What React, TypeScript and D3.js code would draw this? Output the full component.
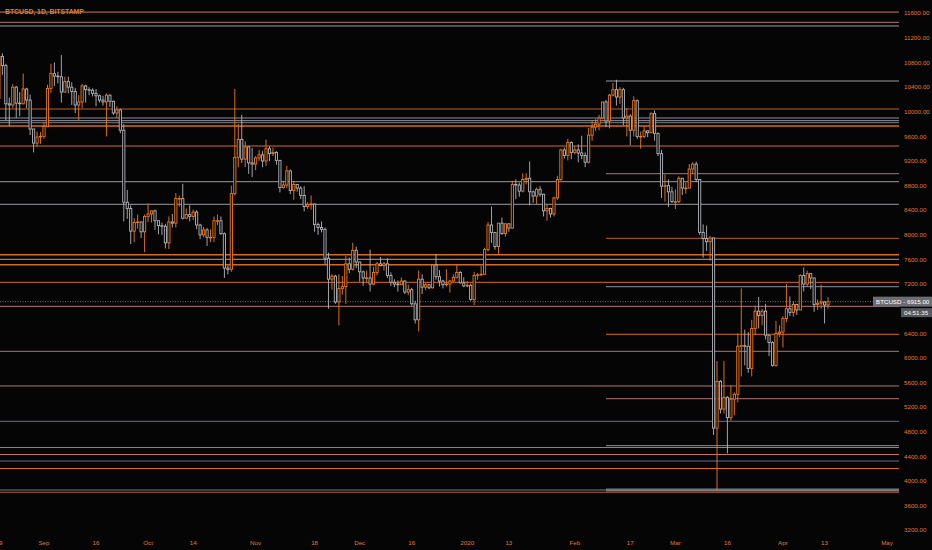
import React from "react";
import * as d3 from "d3";

type Ohlc = [number, number, number, number];

// daily candles, [open, high, low, close], one array per month
const aug2019: Ohlc[] = [
  [10215, 10950, 10100, 10900], [10900, 10950, 10600, 10750], [10750, 10780, 9860, 10130],
  [10130, 10230, 9770, 10110], [10110, 10450, 10060, 10400], [10400, 10420, 9900, 10140],
  [10140, 10320, 9930, 10130], [10130, 10620, 10120, 10370], [10370, 10390, 10060, 10190],
  [10190, 10280, 9620, 9720], [9720, 9720, 9340, 9490], [9490, 9680, 9430, 9590],
  [9590, 9670, 9480, 9600],
];
const sep2019: Ohlc[] = [
  [9600, 9830, 9560, 9760], [9760, 10440, 9760, 10380], [10380, 10780, 10310, 10620],
  [10620, 10800, 10420, 10580], [10580, 10650, 10460, 10570], [10570, 10920, 10150, 10320],
  [10320, 10570, 10310, 10490], [10490, 10570, 10300, 10400], [10400, 10480, 10110, 10330],
  [10330, 10390, 9980, 10110], [10110, 10270, 9860, 10160], [10160, 10450, 10060, 10420],
  [10420, 10440, 10150, 10360], [10360, 10400, 10270, 10350], [10350, 10380, 10250, 10300],
  [10300, 10370, 10090, 10260], [10260, 10280, 10150, 10190], [10190, 10260, 10100, 10160],
  [10160, 10300, 9600, 10270], [10270, 10280, 10080, 10170], [10170, 10180, 9950, 9980],
  [9980, 10090, 9900, 10030], [10030, 10050, 9650, 9700], [9700, 9800, 8220, 8530],
  [8530, 8730, 8260, 8430], [8430, 8480, 7850, 8060], [8060, 8270, 7880, 8200],
  [8200, 8330, 8100, 8210], [8210, 8220, 7950, 8050], [8050, 8330, 7720, 8300],
];
const oct2019: Ohlc[] = [
  [8300, 8510, 8210, 8340], [8340, 8400, 8200, 8390], [8390, 8410, 8080, 8230],
  [8230, 8230, 8010, 8150], [8150, 8200, 8000, 8140], [8140, 8180, 7780, 7870],
  [7870, 8300, 7770, 8210], [8210, 8340, 8120, 8190], [8190, 8680, 8120, 8590],
  [8590, 8640, 8460, 8590], [8590, 8830, 8250, 8270], [8270, 8430, 8270, 8330],
  [8330, 8480, 8220, 8300], [8300, 8410, 8240, 8370], [8370, 8400, 8090, 8160],
  [8160, 8180, 7930, 8000], [8000, 8130, 7960, 8080], [8080, 8110, 7820, 7960],
  [7960, 8090, 7880, 7960], [7960, 8300, 7880, 8230], [8230, 8330, 8160, 8230],
  [8230, 8300, 8000, 8020], [8020, 8040, 7300, 7460], [7460, 7500, 7360, 7440],
  [7440, 8800, 7400, 8670], [8670, 10370, 8640, 9260], [9260, 9800, 9100, 9550],
  [9550, 9950, 9170, 9230], [9230, 9520, 9100, 9430], [9430, 9440, 8990, 9170],
  [9170, 9410, 8940, 9150],
];
const nov2019: Ohlc[] = [
  [9150, 9280, 9050, 9250], [9250, 9380, 9200, 9300], [9300, 9360, 9100, 9200],
  [9200, 9550, 9120, 9400], [9400, 9440, 9200, 9320], [9320, 9420, 9280, 9340],
  [9340, 9360, 9140, 9210], [9210, 9220, 8690, 8770], [8770, 8880, 8750, 8810],
  [8810, 9120, 8760, 9040], [9040, 9060, 8660, 8720], [8720, 8870, 8570, 8820],
  [8820, 8820, 8700, 8760], [8760, 8790, 8580, 8640], [8640, 8790, 8380, 8460],
  [8460, 8530, 8420, 8490], [8490, 8640, 8410, 8500], [8500, 8510, 8050, 8170],
  [8170, 8200, 8000, 8120], [8120, 8220, 8040, 8090], [8090, 8120, 7520, 7620],
  [7620, 7710, 6800, 7280], [7280, 7360, 7110, 7330], [7330, 7350, 6880, 6910],
  [6910, 7360, 6530, 7130], [7130, 7330, 7030, 7160], [7160, 7660, 6880, 7530],
  [7530, 7630, 7380, 7440], [7440, 7870, 7420, 7750], [7750, 7810, 7460, 7560],
];
const dec2019: Ohlc[] = [
  [7560, 7560, 7240, 7400], [7400, 7420, 7170, 7300], [7300, 7420, 7230, 7300],
  [7300, 7760, 7080, 7200], [7200, 7480, 7180, 7390], [7390, 7560, 7340, 7530],
  [7530, 7640, 7490, 7500], [7500, 7560, 7420, 7530], [7530, 7620, 7300, 7340],
  [7340, 7390, 7170, 7230], [7230, 7280, 7150, 7200], [7200, 7260, 7080, 7190],
  [7190, 7310, 7190, 7250], [7250, 7260, 7040, 7070], [7070, 7190, 7020, 7110],
  [7110, 7140, 6850, 6880], [6880, 6930, 6560, 6620], [6620, 7420, 6430, 7280],
  [7280, 7360, 7040, 7150], [7150, 7220, 7100, 7190], [7190, 7200, 7120, 7140],
  [7140, 7520, 7130, 7510], [7510, 7690, 7270, 7320], [7320, 7430, 7160, 7250],
  [7250, 7270, 7130, 7190], [7190, 7440, 7160, 7200], [7200, 7270, 7060, 7250],
  [7250, 7360, 7240, 7310], [7310, 7520, 7290, 7390], [7390, 7410, 7210, 7220],
  [7220, 7310, 7150, 7170],
];
const jan2020: Ohlc[] = [
  [7170, 7250, 7150, 7180], [7180, 7210, 6930, 6950], [6950, 7400, 6860, 7340],
  [7340, 7380, 7270, 7350], [7350, 7500, 7330, 7360], [7360, 7790, 7350, 7760],
  [7760, 8210, 7730, 8160], [8160, 8460, 7870, 8040], [8040, 8040, 7760, 7810],
  [7810, 8190, 7680, 8190], [8190, 8280, 8000, 8020], [8020, 8190, 7970, 8180],
  [8180, 8190, 8050, 8110], [8110, 8880, 8100, 8820], [8820, 8900, 8580, 8810],
  [8810, 8850, 8620, 8710], [8710, 9000, 8690, 8900], [8900, 9000, 8820, 8920],
  [8920, 9190, 8480, 8700], [8700, 8720, 8520, 8630], [8630, 8770, 8500, 8740],
  [8740, 8790, 8620, 8660], [8660, 8670, 8300, 8390], [8390, 8500, 8230, 8430],
  [8430, 8440, 8280, 8340], [8340, 8620, 8300, 8600], [8600, 8960, 8570, 8900],
  [8900, 9400, 8880, 9380], [9380, 9420, 9240, 9290], [9290, 9560, 9210, 9500],
  [9500, 9520, 9230, 9340],
];
const feb2020: Ohlc[] = [
  [9340, 9440, 9310, 9380], [9380, 9470, 9180, 9330], [9330, 9610, 9230, 9290],
  [9290, 9340, 9100, 9180], [9180, 9740, 9160, 9620], [9620, 9860, 9530, 9750],
  [9750, 9880, 9690, 9800], [9800, 9950, 9700, 9900], [9900, 10160, 9880, 10160],
  [10160, 10190, 9750, 9850], [9850, 10290, 9730, 10270], [10270, 10470, 10250, 10360],
  [10360, 10520, 10100, 10240], [10240, 10400, 10130, 10360], [10360, 10390, 9780, 9900],
  [9900, 10060, 9600, 9930], [9930, 9960, 9460, 9700], [9700, 10250, 9600, 10180],
  [10180, 10200, 9560, 9600], [9600, 9680, 9400, 9600], [9600, 9770, 9570, 9690],
  [9690, 9700, 9590, 9660], [9660, 9990, 9660, 9970], [9970, 10020, 9530, 9650],
  [9650, 9660, 9280, 9320], [9320, 9380, 8600, 8790], [8790, 8980, 8540, 8800],
  [8800, 8900, 8450, 8700], [8700, 8780, 8520, 8540],
];
const mar2020: Ohlc[] = [
  [8540, 8740, 8420, 8540], [8540, 8950, 8520, 8920], [8920, 8920, 8650, 8760],
  [8760, 8850, 8670, 8760], [8760, 9150, 8760, 9070], [9070, 9180, 9000, 9150],
  [9150, 9190, 8860, 8900], [8900, 8900, 8000, 8040], [8040, 8170, 7630, 7940],
  [7940, 8150, 7740, 7890], [7890, 7980, 7580, 7950], [7950, 7950, 4750, 4860],
  [4860, 5950, 3850, 5620], [5620, 5640, 5100, 5170], [5170, 5950, 5100, 5360],
  [5360, 5380, 4450, 5030], [5030, 5550, 4980, 5330], [5330, 5440, 5070, 5410],
  [5410, 6400, 5280, 6190], [6190, 7130, 5700, 6200], [6200, 6460, 5880, 6190],
  [6190, 6420, 5760, 5830], [5830, 6620, 5700, 6480], [6480, 6850, 6380, 6760],
  [6760, 6990, 6480, 6690], [6690, 6800, 6530, 6760], [6760, 6880, 6300, 6370],
  [6370, 6370, 6030, 6250], [6250, 6270, 5860, 5880], [5880, 6600, 5860, 6400],
  [6400, 6530, 6340, 6420],
];
const apr2020: Ohlc[] = [
  [6420, 6680, 6170, 6640], [6640, 7200, 6580, 6800], [6800, 7000, 6680, 6740],
  [6740, 6920, 6670, 6870], [6870, 6880, 6700, 6780], [6780, 7360, 6780, 7340],
  [7340, 7470, 7080, 7200], [7200, 7420, 7160, 7370], [7370, 7380, 7120, 7300],
  [7300, 7300, 6750, 6870], [6870, 6950, 6780, 6890], [6890, 7190, 6800, 6910],
  [6910, 6920, 6560, 6860], [6860, 6990, 6800, 6915],
];

const months: [string, Ohlc[]][] = [
  ["2019-08-19", aug2019], ["2019-09-01", sep2019], ["2019-10-01", oct2019],
  ["2019-11-01", nov2019], ["2019-12-01", dec2019], ["2020-01-01", jan2020],
  ["2020-02-01", feb2020], ["2020-03-01", mar2020], ["2020-04-01", apr2020],
];

const priceTicks = [3200, 3600, 4000, 4400, 4800, 5200, 5600, 6000, 6400, 7200, 7600, 8000, 8400, 8800, 9200, 9600, 10000, 10400, 10800, 11200, 11600];

const timeTickDates = ["2019-08-19", "2019-09-01", "2019-09-16", "2019-10-01", "2019-10-14", "2019-11-01", "2019-11-18", "2019-12-01", "2019-12-16", "2020-01-01", "2020-01-13", "2020-02-01", "2020-02-17", "2020-03-01", "2020-03-16", "2020-04-01", "2020-04-13", "2020-05-01"];
const timeTickLabels = ["19", "Sep", "16", "Oct", "14", "Nov", "18", "Dec", "16", "2020", "13", "Feb", "17", "Mar", "16", "Apr", "13", "May"];

// drawn levels: price, kind, start date (null = whole chart)
const levelPrices = [11620, 11454, 11394, 10500, 10045, 9899, 9855, 9822, 9769, 9444, 8994, 8864, 8497, 7944, 7678, 7603, 7515, 7229, 7158, 6839, 6385, 6108, 5545, 5338, 4971, 4575, 4545, 4432, 4326, 4204, 3855, 3855, 3818];
const levelKinds = ["salmon", "pink", "gray", "gray", "rust", "slate", "gray", "dim", "orangeBold", "orange", "pink", "gray", "gray", "rust", "orangeBold", "peach", "orangeBold", "orange", "slate", "pink", "orange", "pink", "pink", "pink", "purple", "slate", "pink", "salmon", "purple", "orange", "dim", "grayBold", "rust"];
const levelStarts = [null, null, null, "2020-02-10", null, null, null, null, null, null, "2020-02-10", null, null, "2020-02-10", null, null, null, null, "2020-02-10", null, "2020-02-10", null, null, "2020-02-10", null, "2020-02-10", null, null, null, null, null, "2020-02-10", null];

const lastPrice = 6915;
const countdown = "04:51:35";
const symbolTitle = "BTCUSD, 1D, BITSTAMP";

const kindStyle: Record<string, { c: string; w: number }> = {
  salmon: { c: "#c87a68", w: 1 },
  pink: { c: "#b27575", w: 1 },
  gray: { c: "#9a9ca2", w: 1 },
  dim: { c: "#7c7e84", w: 1 },
  grayBold: { c: "#75777c", w: 3 },
  slate: { c: "#8c90aa", w: 1 },
  purple: { c: "#6a68a6", w: 1 },
  rust: { c: "#b8602a", w: 1 },
  orange: { c: "#d86c22", w: 1 },
  orangeBold: { c: "#d46a24", w: 1.6 },
  peach: { c: "#d89272", w: 1 },
};

const W = 932;
const H = 550;
const plotRight = 899;
const bg = "#050505";
const upColor = "#f07a1e";
const downColor = "#b3b6bd";
const textColor = "#e07a2c";
const font = "'Liberation Sans', Arial, sans-serif";

const day = (s: string) => new Date(s + "T00:00:00Z");

export default function App() {
  const x = d3.scaleUtc().domain([day("2019-09-01"), day("2020-05-01")]).range([44, 887]);
  const y = d3.scaleLinear().domain([3200, 11600]).range([530.3, 13.3]);

  const candles = months.flatMap(([start, rows]) =>
    rows.map((r, i) => ({ date: d3.utcDay.offset(day(start), i), o: r[0], h: r[1], l: r[2], c: r[3] }))
  );

  const bw = 2.2;
  const py = y(lastPrice);

  return (
    <div style={{ position: "absolute", left: 0, top: 0 }}>
      <svg width={W} height={H} style={{ display: "block", background: bg }}>
        <rect x={0} y={0} width={W} height={H} fill={bg} />
        <defs>
          <clipPath id="plot">
            <rect x={0} y={0} width={plotRight} height={534} />
          </clipPath>
        </defs>
        <g clipPath="url(#plot)">
          {levelPrices.map((p, i) => {
            const st = kindStyle[levelKinds[i]];
            const s = levelStarts[i];
            const x0 = s ? x(day(s)) : 0;
            return (
              <line key={"lv" + i} x1={x0} x2={plotRight} y1={y(p)} y2={y(p)} stroke={st.c} strokeWidth={st.w} />
            );
          })}
          <line x1={0} x2={plotRight} y1={py} y2={py} stroke="#6d6f74" strokeWidth={1} strokeDasharray="1,1.5" />
          {candles.map((d, i) => {
            const cx = x(d.date);
            const up = d.c >= d.o;
            const col = up ? upColor : downColor;
            const top = y(Math.max(d.o, d.c));
            const bot = y(Math.min(d.o, d.c));
            return (
              <g key={"c" + i}>
                <line x1={cx} x2={cx} y1={y(d.h)} y2={top} stroke={col} strokeWidth={0.9} />
                <line x1={cx} x2={cx} y1={bot} y2={y(d.l)} stroke={col} strokeWidth={0.9} />
                <rect x={cx - bw / 2} y={top} width={bw} height={Math.max(0.6, bot - top)} fill={bg} stroke={col} strokeWidth={0.9} />
              </g>
            );
          })}
        </g>
        <text x={5} y={13.6} fill={textColor} fontFamily={font} fontWeight="bold" fontSize={6.8}>
          {symbolTitle}
        </text>
        {priceTicks.map((p) => (
          <text key={"pt" + p} x={904} y={y(p)} dy="0.35em" fill={textColor} fontFamily={font} fontSize={6.2}>
            {p.toFixed(2)}
          </text>
        ))}
        {timeTickDates.map((s, i) => (
          <text key={"tt" + i} x={x(day(s))} y={544.5} textAnchor="middle" fill={textColor} fontFamily={font} fontSize={6.2}>
            {timeTickLabels[i]}
          </text>
        ))}
        <rect x={873} y={py - 5} width={59} height={10} fill="#6a6d74" />
        <text x={876} y={py} dy="0.35em" fill="#ffffff" fontFamily={font} fontSize={6.2}>
          {"BTCUSD - " + lastPrice.toFixed(2)}
        </text>
        <rect x={901} y={py + 6.5} width={31} height={9} fill="#55585e" />
        <text x={904} y={py + 11} dy="0.35em" fill="#ffffff" fontFamily={font} fontSize={6.2}>
          {countdown}
        </text>
      </svg>
    </div>
  );
}
